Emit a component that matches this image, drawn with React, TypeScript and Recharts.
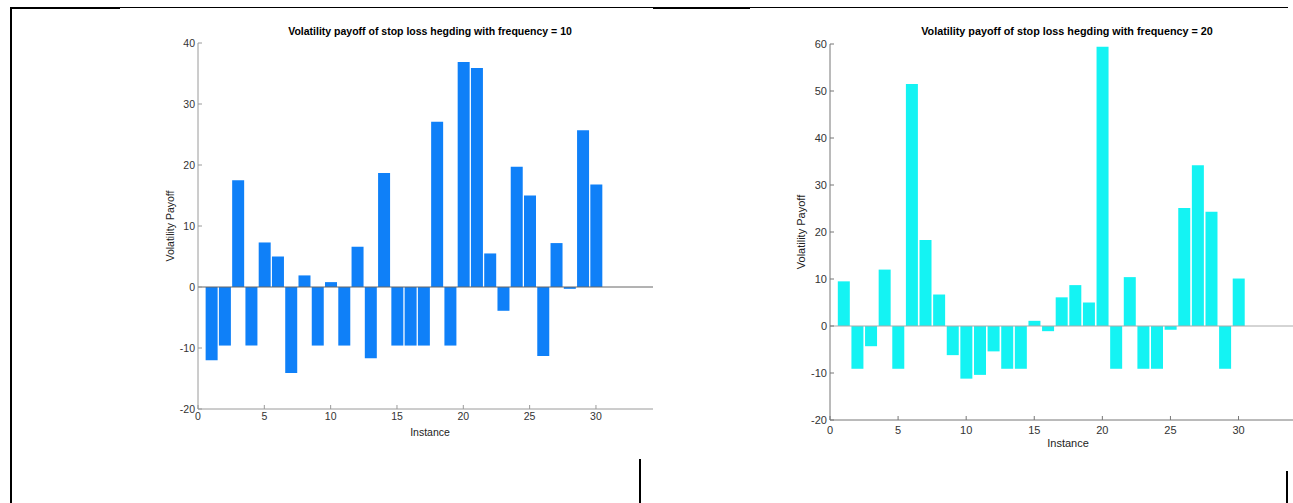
import { BarChart, Bar, XAxis, YAxis, ReferenceLine } from 'recharts'

// instance numbers 1..30
const instances = [1, 2, 3, 4, 5, 6, 7, 8, 9, 10, 11, 12, 13, 14, 15, 16, 17, 18, 19, 20, 21, 22, 23, 24, 25, 26, 27, 28, 29, 30]

// payoff, hedging frequency = 10
const payoff10 = [
  -12.0, -9.6, 17.5, -9.6, 7.3, 5.0, -14.1, 1.9, -9.6, 0.8,
  -9.6, 6.6, -11.7, 18.7, -9.6, -9.6, -9.6, 27.1, -9.6, 36.9,
  35.9, 5.5, -3.9, 19.7, 15.0, -11.3, 7.2, -0.3, 25.7, 16.8,
]

// payoff, hedging frequency = 20
const payoff20 = [
  9.5, -9.1, -4.3, 12.0, -9.1, 51.5, 18.3, 6.7, -6.2, -11.2,
  -10.4, -5.4, -9.1, -9.1, 1.1, -1.1, 6.1, 8.7, 5.0, 59.4,
  -9.1, 10.4, -9.1, -9.1, -0.8, 25.1, 34.2, 24.3, -9.1, 10.1,
]

const xTicks = [0, 5, 10, 15, 20, 25, 30]
const yTicks10 = [-20, -10, 0, 10, 20, 30, 40]
const yTicks20 = [-20, -10, 0, 10, 20, 30, 40, 50, 60]

const data10 = instances.map((x, i) => ({ x, v: payoff10[i] }))
const data20 = instances.map((x, i) => ({ x, v: payoff20[i] }))

const FONT = '"Liberation Sans", Arial, sans-serif'

const line = (left: number, top: number, width: number, height: number) => (
  <div style={{ position: 'absolute', left, top, width, height, background: '#000' }} />
)

const titleStyle = (cx: number, size: number): React.CSSProperties => ({
  position: 'absolute',
  left: cx - 200,
  top: 25,
  width: 400,
  textAlign: 'center',
  fontFamily: FONT,
  fontWeight: 'bold',
  fontSize: size,
  lineHeight: '12px',
  color: '#000',
})

export default function App() {
  return (
    <div style={{ position: 'absolute', left: 0, top: 0, width: 1293, height: 503, background: '#fff', overflow: 'hidden', fontFamily: FONT }}>
      {/* page frame */}
      {line(10, 7, 1278, 1)}
      {line(10, 7, 110, 2)}
      {line(653, 7, 97, 2)}
      {line(10, 7, 2, 496)}
      {line(639, 459, 2, 44)}
      {line(1286, 471, 2, 32)}

      {/* frequency = 10 */}
      <div style={titleStyle(430, 10.5)}>Volatility payoff of stop loss hegding with frequency = 10</div>
      <div style={{ position: 'absolute', left: 0, top: 0 }}>
        <BarChart width={680} height={460} data={data10} margin={{ top: 43, right: 27, left: 138, bottom: 31 }}>
          <XAxis
            dataKey="x"
            type="number"
            domain={[0, 34.3]}
            ticks={xTicks}
            allowDataOverflow
            height={20}
            tickSize={-4}
            tickMargin={8}
            stroke="#9a9a9a"
            tick={{ fill: '#333', fontSize: 10.5, fontFamily: FONT }}
            label={{ value: 'Instance', position: 'bottom', offset: -0.5, dx: 4.5, fill: '#222', fontSize: 10.5, fontFamily: FONT }}
          />
          <YAxis
            type="number"
            domain={[-20, 40]}
            ticks={yTicks10}
            width={60}
            tickSize={-4}
            tickMargin={7}
            stroke="#9a9a9a"
            tick={{ fill: '#333', fontSize: 10.5, fontFamily: FONT }}
            label={{ value: 'Volatility Payoff', angle: -90, position: 'insideLeft', offset: 32, fill: '#222', fontSize: 10.5, fontFamily: FONT, style: { textAnchor: 'middle' } }}
          />
          <ReferenceLine y={0} stroke="#666" strokeWidth={1} />
          <Bar dataKey="v" fill="#0F80F8" barSize={12} isAnimationActive={false} />
        </BarChart>
      </div>

      {/* frequency = 20 */}
      <div style={titleStyle(1067, 10.8)}>Volatility payoff of stop loss hegding with frequency = 20</div>
      <div style={{ position: 'absolute', left: 650, top: 0 }}>
        <BarChart width={643} height={470} data={data20} margin={{ top: 44, right: 0, left: 120, bottom: 30 }}>
          <XAxis
            dataKey="x"
            type="number"
            domain={[0, 34]}
            ticks={xTicks}
            allowDataOverflow
            height={20}
            tickSize={-4}
            tickMargin={10}
            stroke="#777"
            tick={{ fill: '#333', fontSize: 11, fontFamily: FONT }}
            label={{ value: 'Instance', position: 'bottom', offset: -0.5, dx: 6.5, fill: '#222', fontSize: 11, fontFamily: FONT }}
          />
          <YAxis
            type="number"
            domain={[-20, 60]}
            ticks={yTicks20}
            width={60}
            tickSize={-4}
            tickMargin={7}
            stroke="#777"
            tick={{ fill: '#333', fontSize: 11, fontFamily: FONT }}
            label={{ value: 'Volatility Payoff', angle: -90, position: 'insideLeft', offset: 31, fill: '#222', fontSize: 11, fontFamily: FONT, style: { textAnchor: 'middle' } }}
          />
          <ReferenceLine y={0} stroke="#aaa" strokeWidth={1} />
          <Bar dataKey="v" fill="#14F3F3" barSize={12} isAnimationActive={false} />
        </BarChart>
      </div>
    </div>
  )
}
